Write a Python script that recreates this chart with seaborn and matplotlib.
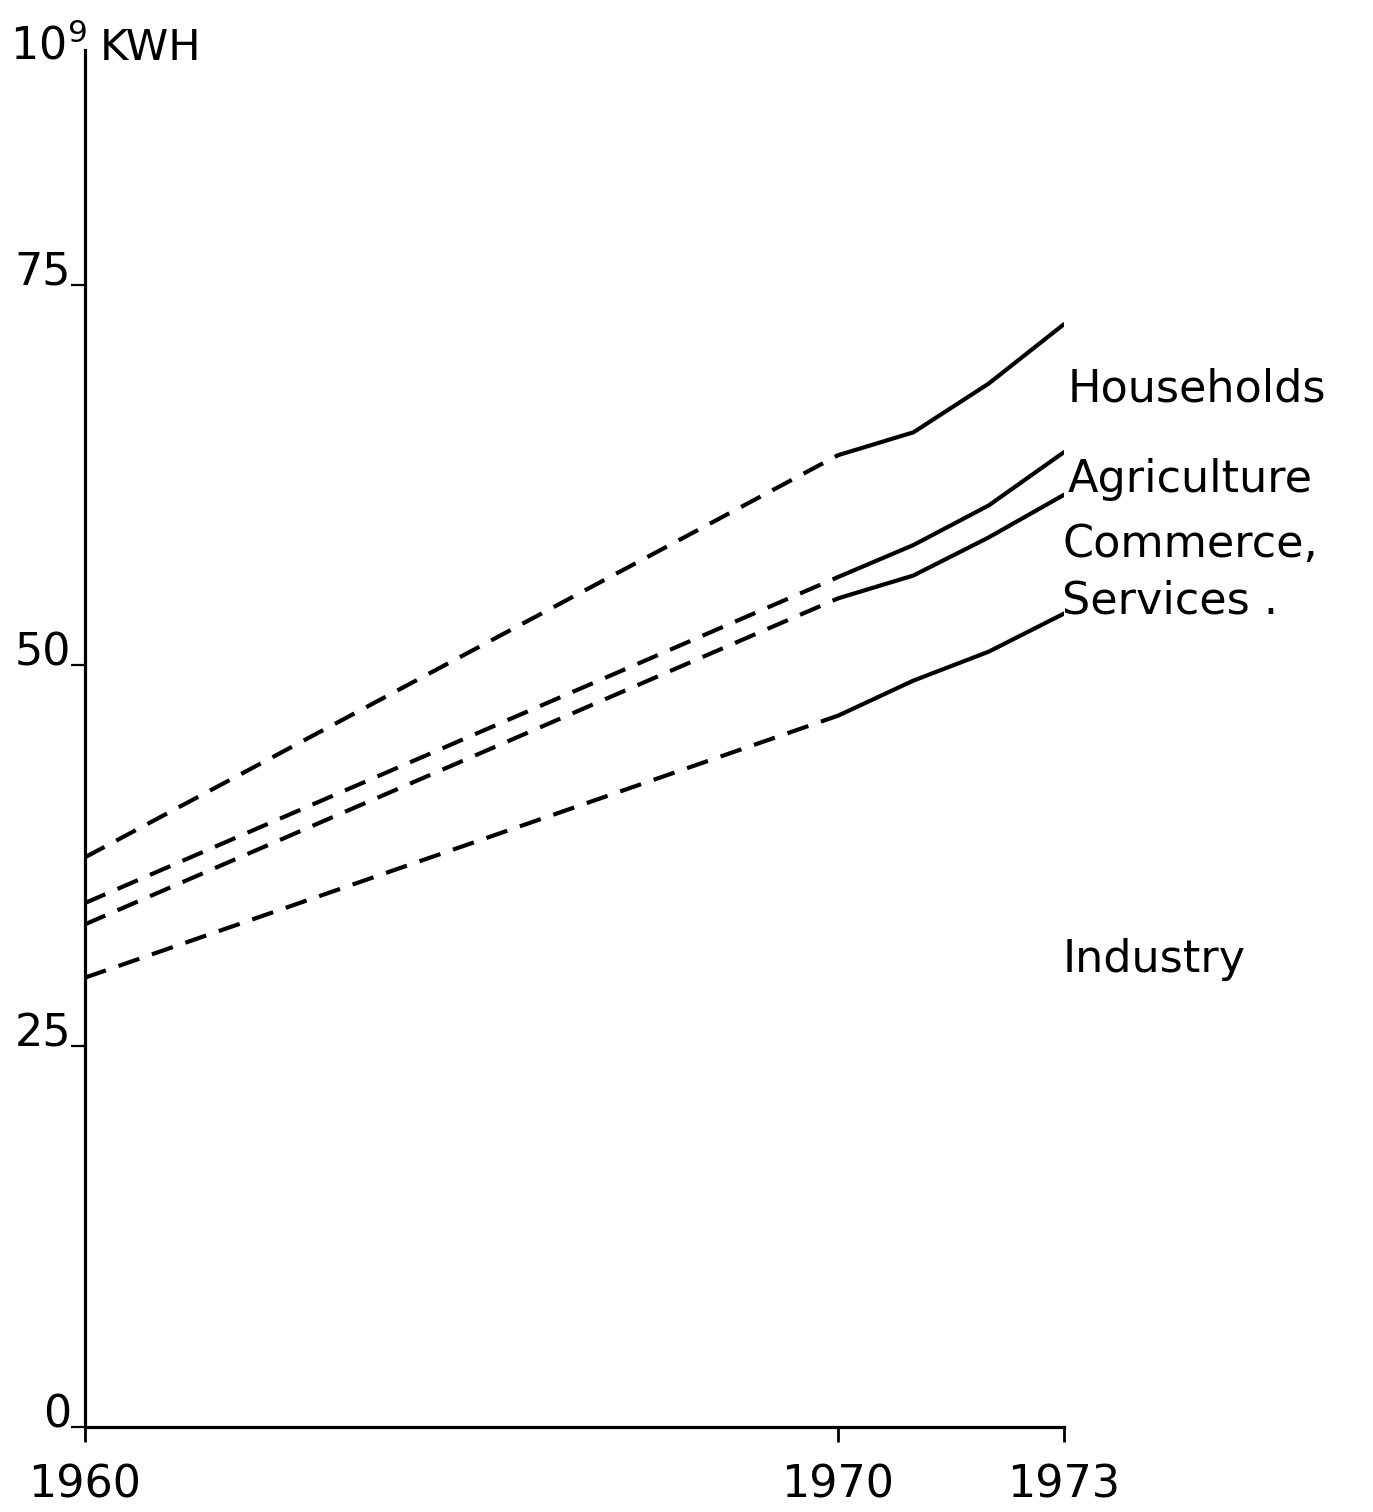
import matplotlib
matplotlib.use("Agg")
import matplotlib.pyplot as plt
import seaborn as sns
import pandas as pd

# ---- data (10^9 KWH) ----
series_names = ["Households", "Agriculture", "Commerce, Services", "Industry"]
proj_years = [1960, 1970]
obs_years = [1970, 1971, 1972, 1973]
households_proj = [37.4, 63.8]
households_obs = [63.8, 65.3, 68.5, 72.4]
agriculture_proj = [34.4, 55.8]
agriculture_obs = [55.8, 57.9, 60.5, 64.0]
commerce_proj = [33.0, 54.4]
commerce_obs = [54.4, 55.9, 58.4, 61.2]
industry_proj = [29.5, 46.7]
industry_obs = [46.7, 49.0, 50.9, 53.4]
y_ticks = [0, 25, 50, 75]
x_ticks = [1960, 1970, 1973]

rows = []
for name, pj, ob in zip(series_names,
                        [households_proj, agriculture_proj, commerce_proj, industry_proj],
                        [households_obs, agriculture_obs, commerce_obs, industry_obs]):
    for yr, v in zip(proj_years, pj):
        rows.append(dict(year=yr, value=v, series=name, segment="trend", unit=name + "_t"))
    for yr, v in zip(obs_years, ob):
        rows.append(dict(year=yr, value=v, series=name, segment="actual", unit=name + "_a"))
df = pd.DataFrame(rows)

sns.set_theme(style="white")
plt.rcParams['font.family'] = ['DejaVu Sans']
plt.rcParams['text.color'] = 'black'
plt.rcParams['xtick.color'] = 'black'
plt.rcParams['ytick.color'] = 'black'
plt.rcParams['axes.labelcolor'] = 'black'

fig = plt.figure(figsize=(13.73, 15.12), dpi=100)
W, H = 1373, 1512
x0, x1 = 85, 1064
y0, y1 = 1427, 50
ax = fig.add_axes([x0 / W, 1 - y0 / H, (x1 - x0) / W, (y0 - y1) / H])

sns.lineplot(data=df, x="year", y="value", units="unit", style="segment",
             estimator=None, color="black", linewidth=3.0,
             dashes={"trend": (5.3, 3.2), "actual": ""}, legend=False, ax=ax,
             sort=False)

ax.set_xlim(1960, 1973)
ax.set_ylim(0, 90.4)
for s in ["top", "right"]:
    ax.spines[s].set_visible(False)
for s in ["left", "bottom"]:
    ax.spines[s].set_color("black")
    ax.spines[s].set_linewidth(2.3)
ax.set_xlabel("")
ax.set_ylabel("")

ax.set_yticks(y_ticks)
ax.set_yticklabels([str(t) for t in y_ticks])
ax.tick_params(axis="y", direction="out", length=10, width=1.6, pad=0,
               labelsize=32, colors="black", left=True)
for lab in ax.get_yticklabels():
    lab.set_va("baseline")

ax.set_xticks(x_ticks)
ax.set_xticklabels([str(t) for t in x_ticks])
ax.tick_params(axis="x", direction="out", length=11, width=2.0, pad=15,
               labelsize=32, colors="black", bottom=True)

# unit label
fig.text(10 / W, 1 - 60 / H, r"$\mathregular{10^9}$", fontsize=32, color="black",
         ha="left", va="baseline")
fig.text(100 / W, 1 - 60 / H, "KWH", fontsize=31, color="black", ha="left", va="baseline")

# series labels
label_specs = [("Households", 1973.05, 67.3),
               ("Agriculture", 1973.05, 61.4),
               ("Commerce,", 1972.98, 57.1),
               ("Services .", 1972.98, 53.4),
               ("Industry", 1972.98, 29.9)]
for txt, xx, yy in label_specs:
    ax.text(xx, yy, txt, fontsize=32, color="black", ha="left", va="baseline", clip_on=False)

fig.savefig("out.png", dpi=100, facecolor="white")
